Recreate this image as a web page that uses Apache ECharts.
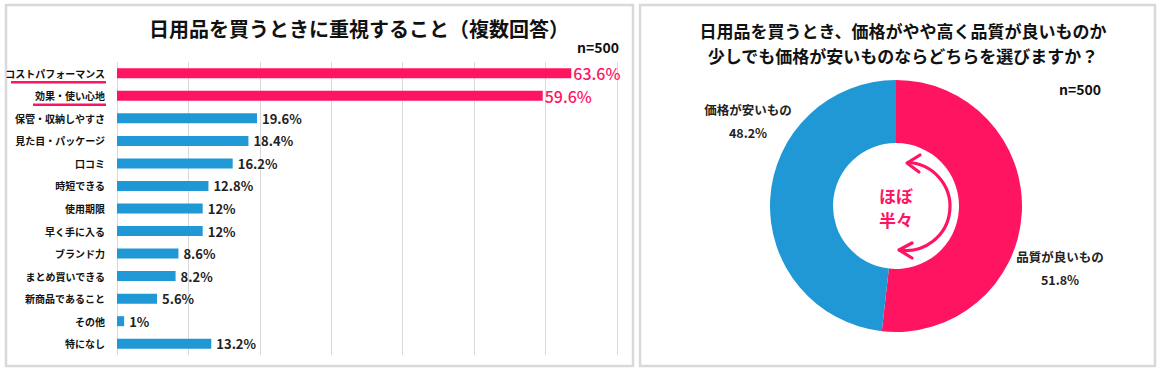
<!DOCTYPE html>
<html>
<head>
<meta charset="utf-8">
<script src="https://cdn.jsdelivr.net/npm/echarts@6/dist/echarts.min.js"></script>
<style>
html,body{margin:0;padding:0;background:#fff;}
#main{width:1162px;height:369px;}
</style>
</head>
<body>
<div id="main"></div>
<script>
// ---- data ----
const barTitle = '日用品を買うときに重視すること（複数回答）';
const categories = ['コストパフォーマンス','効果・使い心地','保管・収納しやすさ','見た目・パッケージ','口コミ','時短できる','使用期限','早く手に入る','ブランド力','まとめ買いできる','新商品であること','その他','特になし'];
const values = [63.6,59.6,19.6,18.4,16.2,12.8,12,12,8.6,8.2,5.6,1,13.2];
const highlighted = ['コストパフォーマンス','効果・使い心地'];
const sampleLabel = 'n=500';
const pieTitle = '日用品を買うとき、価格がやや高く品質が良いものか\n少しでも価格が安いものならどちらを選びますか？';
const pieNames = ['品質が良いもの','価格が安いもの'];
const pieValues = [51.8,48.2];
const centerText = 'ほぼ\n半々';

// ---- styles ----
const PINK = '#FF1462';
const BLUE = '#1F98D5';
const FONT = '"Noto Sans CJK JP", "Noto Sans", sans-serif';
const CAT_FONT = 10;
const CAT_MARGIN = 12;

const chart = echarts.init(document.getElementById('main'), null, {renderer:'svg'});

const barData = values.map((v,i)=>{
  const hi = highlighted.includes(categories[i]);
  return {
    value: v,
    itemStyle: {color: hi ? PINK : BLUE},
    label: hi ? {color: PINK, fontSize: 16, fontWeight: 500, distance: 2} : {}
  };
});

const option = {
  animation: false,
  title: [
    {text: barTitle, left: 354, top: 13, textAlign: 'center',
     textStyle:{fontFamily:FONT, fontSize:20, fontWeight:'bold', color:'#111'}},
    {text: pieTitle, left: 898, top: 13, textAlign: 'center',
     textStyle:{fontFamily:FONT, fontSize:17, fontWeight:'bold', color:'#111', lineHeight:25}}
  ],
  grid: {left:117, right:545, top:62, bottom:14, containLabel:false, outerBoundsMode:'none'},
  xAxis: {
    type:'value', min:0, max:70, interval:10,
    axisLabel:{show:false}, axisTick:{show:false}, axisLine:{show:false},
    splitLine:{show:true, lineStyle:{color:'#d9d9d9', width:1}}
  },
  yAxis: {
    type:'category', data: categories, inverse:true,
    axisLine:{show:false}, axisTick:{show:false},
    axisLabel:{fontFamily:FONT, fontSize:CAT_FONT, fontWeight:'bold', color:'#111', margin:CAT_MARGIN}
  },
  series: [
    {
      type:'bar', data: barData, barWidth:10,
      label:{show:true, position:'right', distance:5, formatter: p=>p.value+'%',
        fontFamily:FONT, fontSize:13, fontWeight:'bold', color:'#222'}
    },
    {
      type:'pie', center:[896,206], radius:[63,126], startAngle:90, clockwise:true,
      data: pieNames.map((n,i)=>({name:n, value:pieValues[i], itemStyle:{color: i===0?PINK:BLUE}})),
      label:{show:true, formatter: p=>p.name+'\n'+p.value+'%', fontFamily:FONT, fontSize:12.5,
        fontWeight:'bold', color:'#222', lineHeight:23, align:'center', overflow:'none', width:200},
      labelLine:{show:false},
      labelLayout: function(params){
        return params.dataIndex===0 ? {x:1060, y:268, align:'center', verticalAlign:'middle'}
                                    : {x:748, y:121, align:'center', verticalAlign:'middle'};
      },
      emphasis:{disabled:true}
    }
  ],
  graphic: []
};
chart.setOption(option);

// panels, sample labels, center text, arrow, underlines
const g = [
  {type:'rect', shape:{x:6, y:5, width:627, height:361}, style:{fill:'none', stroke:'#d9d9d9', lineWidth:2.5}, silent:true},
  {type:'rect', shape:{x:640, y:5, width:515, height:361}, style:{fill:'none', stroke:'#d9d9d9', lineWidth:2.5}, silent:true},
  {type:'text', x:619, y:47, style:{text:sampleLabel, font:'bold 14px '+FONT, fill:'#111', align:'right', verticalAlign:'middle'}},
  {type:'text', x:1101, y:89, style:{text:sampleLabel, font:'bold 14px '+FONT, fill:'#111', align:'right', verticalAlign:'middle'}},
  {type:'text', x:896, y:207, style:{text:centerText, font:'bold 17px '+FONT, fill:PINK, align:'center', verticalAlign:'middle', lineHeight:24}},
  {type:'arc', shape:{cx:906, cy:206.5, r:44, startAngle:-89*Math.PI/180, endAngle:100*Math.PI/180, clockwise:true}, style:{fill:'none', stroke:PINK, lineWidth:3.2}},
  {type:'polyline', shape:{points:[[920,155],[907,163],[919,172]]}, style:{fill:'none', stroke:PINK, lineWidth:3.2, lineCap:'round', lineJoin:'round'}},
  {type:'polyline', shape:{points:[[912,243],[899,250],[912,258]]}, style:{fill:'none', stroke:PINK, lineWidth:3.2, lineCap:'round', lineJoin:'round'}}
];
const cv = document.createElement('canvas').getContext('2d');
cv.font = 'bold '+CAT_FONT+'px '+FONT;
highlighted.forEach(name=>{
  const y = chart.convertToPixel({yAxisIndex:0}, name);
  const right = 117 - CAT_MARGIN;
  const w = cv.measureText(name).width;
  g.push({type:'line', shape:{x1:Math.max(right - w - 2, 11), y1:y+9, x2:right+1, y2:y+9}, style:{stroke:PINK, lineWidth:2.5}});
});
chart.setOption({graphic: g});
</script>
</body>
</html>
